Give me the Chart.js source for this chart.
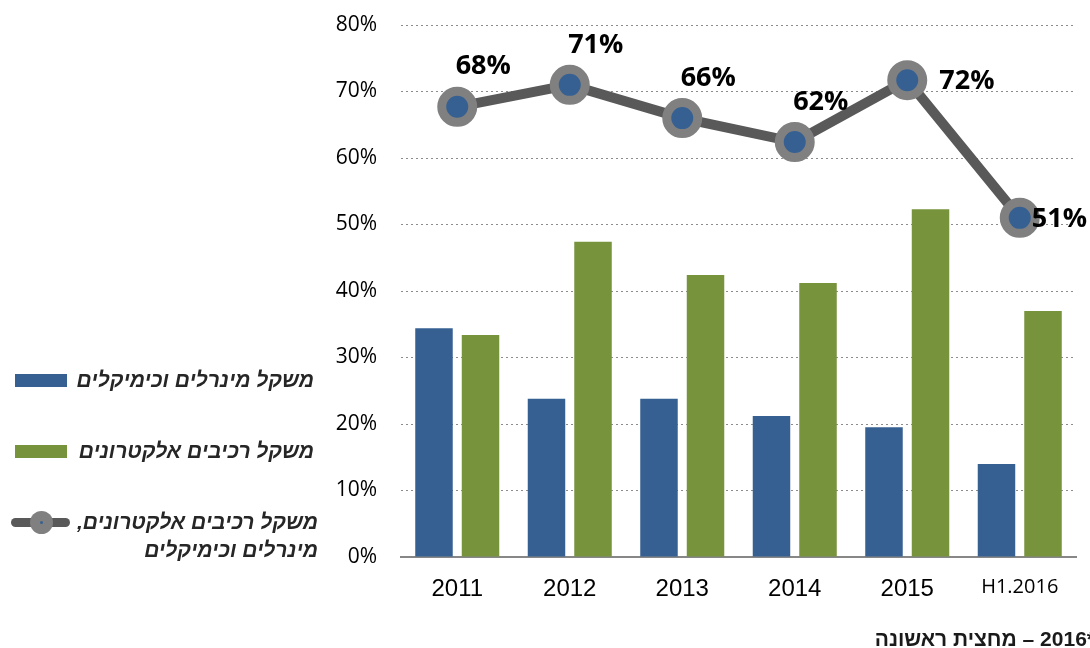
<!DOCTYPE html>
<html>
<head>
<meta charset="utf-8">
<script src="https://cdn.jsdelivr.net/npm/chart.js@4"></script>
<style>
  body { margin: 0; background: #fff; }
  #wrap { position: relative; width: 1090px; height: 648px; overflow: hidden; }
  #chart { position: absolute; left: 0; top: 0; }
  .legend-item {
    position: absolute; left: 0; width: 314px;
    font: italic bold 21px "Liberation Sans", Arial, sans-serif; color: #262626;
  }
  .legend-item .txt { position: absolute; right: 0; direction: rtl; text-align: right; white-space: nowrap; line-height: 28px; }
  .swatch { position: absolute; left: 15px; width: 52px; height: 13px; }
  .line-icon { position: absolute; left: 11px; width: 59px; height: 9px; background: #595959; border-radius: 5px; }
  .line-icon .dot { position: absolute; left: 19px; top: -7px; width: 23px; height: 23px; border-radius: 50%; background: #808080; }
  .line-icon .dot::after { content: ''; position: absolute; left: 10px; top: 10px; width: 3px; height: 3px; border-radius: 50%; background: #366092; }
  #note {
    position: absolute; right: -5px; top: 627px; direction: rtl; white-space: nowrap;
    font: bold 21px "Liberation Sans", Arial, sans-serif; color: #1a1a1a;
  }
</style>
</head>
<body>
<div id="wrap">
  <canvas id="chart" width="1090" height="648"></canvas>
  <div class="legend-item" style="top:366px">
    <div class="swatch" style="top:8px;background:#376092"></div>
    <div class="txt">משקל מינרלים וכימיקלים</div>
  </div>
  <div class="legend-item" style="top:437px">
    <div class="swatch" style="top:8px;background:#77933c"></div>
    <div class="txt">משקל רכיבים אלקטרונים</div>
  </div>
  <div class="legend-item" style="top:508px">
    <div class="line-icon" style="top:10px"><div class="dot"></div></div>
    <div class="txt" style="right:-4px">משקל רכיבים אלקטרונים,<br>מינרלים וכימיקלים</div>
  </div>
  <div id="note">*2016 – מחצית ראשונה</div>
</div>
<script>
// values (percent)
const categories = ['2011', '2012', '2013', '2014', '2015', 'H1.2016'];
const mineralsShare = [34.4, 23.8, 23.8, 21.2, 19.5, 14.0];
const electronicsShare = [33.4, 47.4, 42.4, 41.2, 52.3, 37.0];
const combinedShare = [67.7, 71.0, 66.0, 62.4, 71.7, 51.0];
const combinedLabels = ['68%', '71%', '66%', '62%', '72%', '51%'];
const labelSide = ['above', 'above', 'above', 'above', 'right', 'right'];

const tickFont = { family: '"Open Sans", sans-serif', size: 21 };

// draws the bold % labels next to the line points
const pointLabels = {
  id: 'pointLabels',
  afterDatasetsDraw(chart) {
    const meta = chart.getDatasetMeta(0);
    const ctx = chart.ctx;
    ctx.save();
    ctx.font = 'bold 27px "Open Sans", sans-serif';
    ctx.fillStyle = '#000';
    ctx.textBaseline = 'middle';
    meta.data.forEach((pt, i) => {
      if (labelSide[i] === 'above') {
        ctx.textAlign = 'center';
        ctx.fillText(combinedLabels[i], pt.x + 26, pt.y - 40);
      } else {
        ctx.textAlign = 'left';
        ctx.fillText(combinedLabels[i], pt.x + (i === 5 ? 12 : 32), pt.y + 1);
      }
    });
    ctx.restore();
  }
};

new Chart(document.getElementById('chart'), {
  data: {
    labels: categories,
    datasets: [
      {
        type: 'line',
        label: 'משקל רכיבים אלקטרונים, מינרלים וכימיקלים',
        data: combinedShare,
        borderColor: '#595959',
        borderWidth: 10,
        pointRadius: 15.5,
        pointHoverRadius: 15.5,
        pointBackgroundColor: '#366092',
        pointBorderColor: '#808080',
        pointBorderWidth: 9,
        pointHoverBorderWidth: 9,
        clip: false,
        order: 0
      },
      {
        type: 'bar',
        label: 'משקל מינרלים וכימיקלים',
        data: mineralsShare,
        backgroundColor: '#376092',
        categoryPercentage: 0.827,
        barPercentage: 0.806,
        order: 1
      },
      {
        type: 'bar',
        label: 'משקל רכיבים אלקטרונים',
        data: electronicsShare,
        backgroundColor: '#77933c',
        categoryPercentage: 0.827,
        barPercentage: 0.806,
        order: 1
      }
    ]
  },
  options: {
    responsive: false,
    animation: false,
    layout: { autoPadding: false, padding: { left: 0, right: 14, top: 25, bottom: 0 } },
    plugins: {
      legend: { display: false },
      tooltip: { enabled: false }
    },
    scales: {
      x: {
        grid: { display: false, drawTicks: false },
        border: { color: '#878787', width: 2 },
        ticks: {
          color: '#000',
          padding: 18,
          font: (c) => c.index === 5
            ? { family: '"Open Sans", sans-serif', size: 20 }
            : { family: '"Liberation Sans", Arial, sans-serif', size: 24 }
        },
        afterFit: (scale) => { scale.height = 91; }
      },
      y: {
        min: 0,
        max: 80,
        grid: { color: '#8c8c8c', lineWidth: 1, drawTicks: true, tickLength: 14, tickColor: 'rgba(0,0,0,0)' },
        border: { display: false, dash: [2, 3] },
        ticks: {
          stepSize: 10,
          color: '#000',
          padding: 10,
          font: tickFont,
          callback: (v) => v + '%'
        },
        afterFit: (scale) => { scale.width = 401; }
      }
    }
  },
  plugins: [pointLabels]
});
</script>
</body>
</html>
